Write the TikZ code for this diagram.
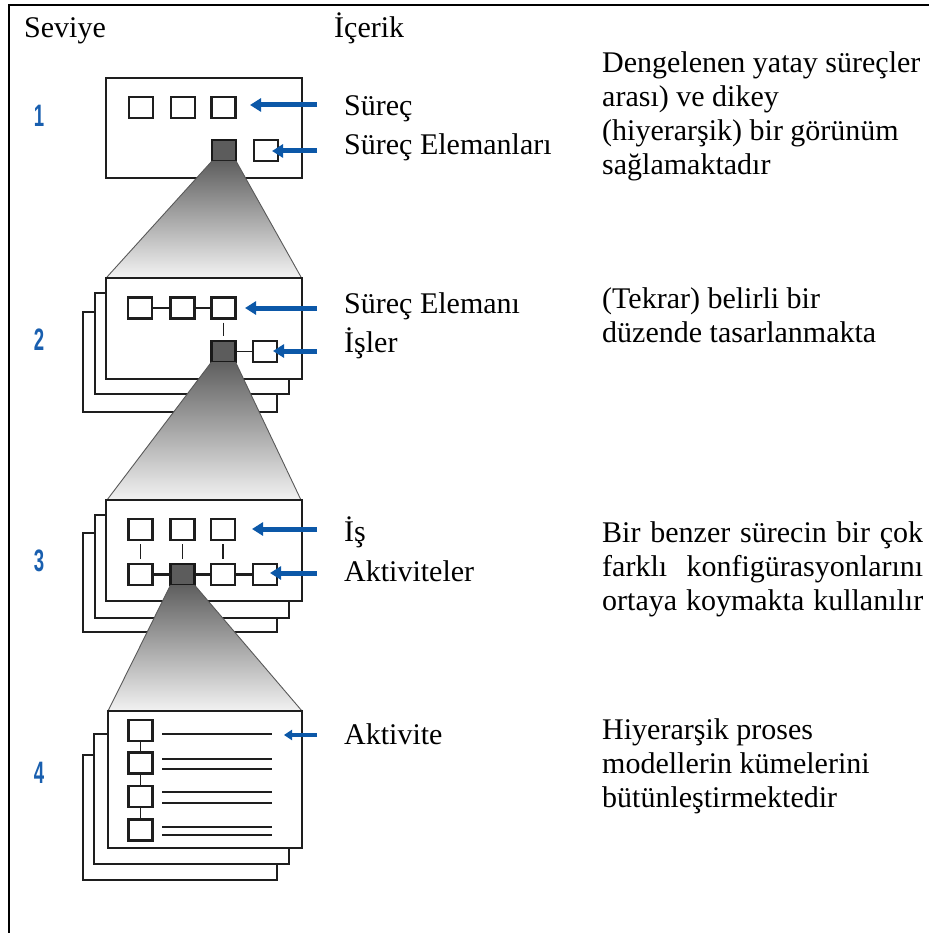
\documentclass[tikz,border=0pt]{standalone}
\usepackage{fontspec}
\setmainfont{Liberation Serif}
\setsansfont{Liberation Sans}
\usetikzlibrary{arrows.meta}
\definecolor{arrowblue}{RGB}{12,88,168}
\definecolor{numblue}{RGB}{25,95,175}
\definecolor{boxline}{RGB}{30,30,30}
\definecolor{darksq}{RGB}{92,92,92}
\definecolor{shtop}{RGB}{95,95,95}
\definecolor{shbot}{RGB}{242,242,242}
\tikzset{
  sq/.style={draw=boxline, fill=white, line width=2.2pt, minimum width=24pt, minimum height=21pt, inner sep=0pt, outer sep=0pt},
  dsq/.style={sq, fill=darksq, draw=black!90},
  panel/.style={draw=boxline, fill=white, line width=2pt},
  lbl/.style={anchor=base west, inner sep=0pt, font=\fontsize{30pt}{34pt}\selectfont},
  num/.style={anchor=base, inner sep=0pt, text=numblue, font=\fontsize{31pt}{31pt}\selectfont\sffamily\bfseries},
  ptr/.style={draw=arrowblue, line width=5pt, -{Triangle[length=11pt,width=13pt]}},
  ptrs/.style={draw=arrowblue, line width=3.5pt, -{Triangle[length=8pt,width=10pt]}},
  link/.style={draw=boxline, line width=1.8pt},
  tickline/.style={draw=boxline, line width=1.4pt, shorten <=4pt, shorten >=5pt},
  txtline/.style={draw=boxline, line width=1.7pt},
  cone/.style={top color=shtop, bottom color=shbot, draw=none},
  coneedge/.style={draw=black!65, line width=0.9pt}
}
\begin{document}
\begin{tikzpicture}[x=1pt,y=-1pt]
\useasboundingbox (0,0) rectangle (929,933);
% frame
\draw[line width=2.5pt] (9,933) -- (9,5) -- (929,5);
% headers
\node[lbl] (hdA) at (24,38) {Seviye};
\node[lbl] (hdB) at (334,38) {İçerik};
% level numbers
\node[num] (n1) at (39,127) {\scalebox{0.6}[1]{1}};
\node[num] (n2) at (39,350) {\scalebox{0.6}[1]{2}};
\node[num] (n3) at (39,571) {\scalebox{0.6}[1]{3}};
\node[num] (n4) at (39,783) {\scalebox{0.6}[1]{4}};

% ---------- Level 1 ----------
\draw[panel] (106,78) rectangle (302,178);
\node[sq] (a1) at (141,107.5) {};
\node[sq] (a2) at (183,107.5) {};
\node[sq] (a3) at (223.5,107.5) {};
\node[dsq] (ad) at (224,150.5) {};
\node[sq] (ar) at (266,150.5) {};
\shade[cone] (ad.south west) -- (ad.south east) -- (301,277) -- (107,277) -- cycle;
\draw[coneedge] (ad.south west) -- (107,277) (ad.south east) -- (301,277);

% ---------- Level 2 ----------
\draw[panel] (83,312) rectangle (277,412);
\draw[panel] (95,293) rectangle (289,394);
\draw[panel] (106,278) rectangle (302,379);
\node[sq] (b1) at (140,308) {};
\node[sq] (b2) at (182.5,308) {};
\node[sq] (b3) at (223.5,308) {};
\node[dsq] (bd) at (223.5,351.5) {};
\node[sq] (br) at (265,351.5) {};
\draw[link] (b1) -- (b2);
\draw[link] (b2) -- (b3);
\draw[link] (bd) -- (br);
\draw[tickline] (b3.south) -- (bd.north);
\shade[cone] (bd.south west) -- (bd.south east) -- (301,500) -- (107,500) -- cycle;
\draw[coneedge] (bd.south west) -- (107,500) (bd.south east) -- (301,500);

% ---------- Level 3 ----------
\draw[panel] (83,533) rectangle (277,632);
\draw[panel] (95,515) rectangle (289,618);
\draw[panel] (106,500) rectangle (302,601);
\node[sq] (c1) at (140.5,529.5) {};
\node[sq] (c2) at (182.5,529.5) {};
\node[sq] (c3) at (223,529.5) {};
\node[sq] (c4) at (140.5,574.5) {};
\node[dsq] (cd) at (182.5,574.5) {};
\node[sq] (c5) at (223,574.5) {};
\node[sq] (cr) at (265,574.5) {};
\draw[tickline] (c1.south) -- (c4.north);
\draw[tickline] (c2.south) -- (cd.north);
\draw[tickline] (c3.south) -- (c5.north);
\draw[link, line width=2.2pt] (c4) -- (cd);
\draw[link, line width=2.2pt] (cd) -- (c5);
\draw[link, line width=2.2pt] (c5) -- (cr);
\shade[cone] (cd.south west) -- (cd.south east) -- (302,711) -- (108,711) -- cycle;
\draw[coneedge] (cd.south west) -- (108,711) (cd.south east) -- (302,711);

% ---------- Level 4 ----------
\draw[panel] (83,755) rectangle (277,880);
\draw[panel] (94,734) rectangle (289,864);
\draw[panel] (108,711) rectangle (302,848);
\node[sq] (e1) at (140.5,730.5) {};
\node[sq] (e2) at (140.5,763) {};
\node[sq] (e3) at (140.5,796.5) {};
\node[sq] (e4) at (140.5,830) {};
\draw[link, line width=1.3pt] (e1) -- (e2);
\draw[link, line width=1.3pt] (e2) -- (e3);
\draw[link, line width=1.3pt] (e3) -- (e4);
\draw[txtline] (162,734) -- (272,734);
\draw[txtline] (162,759) -- (272,759);
\draw[txtline] (162,769) -- (272,769);
\draw[txtline] (162,792) -- (272,792);
\draw[txtline] (162,803) -- (272,803);
\draw[txtline, line width=2.6pt] (162,827) -- (272,827);
\draw[txtline] (162,835) -- (272,835);

% ---------- labels and pointers ----------
\node[lbl] (l1a) at (344,116) {Süreç};
\node[lbl] (l1b) at (344,155) {Süreç Elemanları};
\node[lbl] (l2a) at (344,313) {Süreç Elemanı};
\node[lbl] (l2b) at (344,352) {İşler};
\node[lbl] (l3a) at (344,541) {İş};
\node[lbl] (l3b) at (344,581) {Aktiviteler};
\node[lbl] (l4a) at (344,744) {Aktivite};

\coordinate (t1a) at (317,105);   \coordinate (h1a) at (250,105);
\coordinate (t1b) at (317,151);   \coordinate (h1b) at (272,151);
\coordinate (t2a) at (317,308);   \coordinate (h2a) at (245,308);
\coordinate (t2b) at (317,351);   \coordinate (h2b) at (273,351);
\coordinate (t3a) at (317,529);   \coordinate (h3a) at (252,529);
\coordinate (t3b) at (317,573);   \coordinate (h3b) at (270,573);
\coordinate (t4a) at (317,735);   \coordinate (h4a) at (284,735);
\draw[ptr] (t1a) -- (h1a);
\draw[ptr] (t1b) -- (h1b);
\draw[ptr] (t2a) -- (h2a);
\draw[ptr] (t2b) -- (h2b);
\draw[ptr] (t3a) -- (h3a);
\draw[ptr] (t3b) -- (h3b);
\draw[ptrs] (t4a) -- (h4a);

% ---------- descriptions ----------
\node[lbl] (r1a) at (602,73) {Dengelenen yatay süreçler};
\node[lbl] (r1b) at (602,107) {arası) ve dikey};
\node[lbl] (r1c) at (602,141) {(hiyerarşik) bir görünüm};
\node[lbl] (r1d) at (602,175) {sağlamaktadır};

\node[lbl] (r2a) at (602,308) {(Tekrar) belirli bir};
\node[lbl] (r2b) at (602,342) {düzende tasarlanmakta};

\node[lbl] (r3a) at (602,542) {\makebox[321pt][s]{Bir benzer sürecin bir çok}};
\node[lbl] (r3b) at (602,576) {\makebox[321pt][s]{farklı konfigürasyonlarını}};
\node[lbl] (r3c) at (602,610) {\makebox[321pt][s]{ortaya koymakta kullanılır}};

\node[lbl] (r4a) at (602,739) {Hiyerarşik proses};
\node[lbl] (r4b) at (602,773) {modellerin kümelerini};
\node[lbl] (r4c) at (602,807) {bütünleştirmektedir};
\end{tikzpicture}
\end{document}
